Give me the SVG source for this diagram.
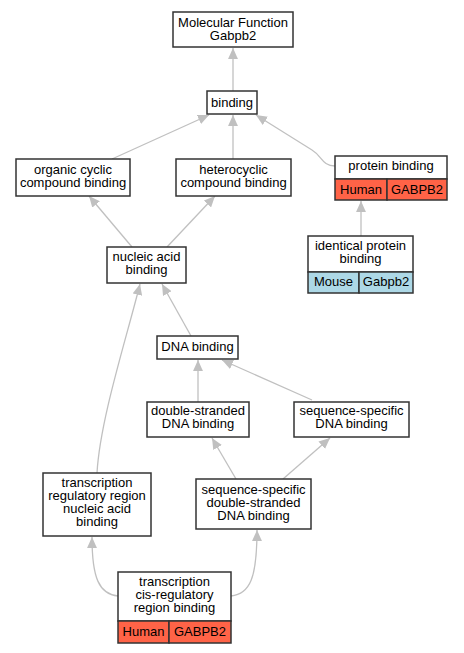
<svg xmlns="http://www.w3.org/2000/svg" width="464" height="653" viewBox="0 0 464 653">
<style>
.n rect{fill:#fff;stroke:#333;stroke-width:1.5}
.n rect.h{fill:#ff6347}
.n rect.m{fill:#add8e6}
text{font-family:"Liberation Sans",Arial,sans-serif;font-size:13px;text-anchor:middle;fill:#000}
.e path{fill:none;stroke:#c0c0c0;stroke-width:1.3}
</style>
<defs>
<marker id="a" viewBox="0 0 10 9" refX="10" refY="4.5" markerWidth="11" markerHeight="10" markerUnits="userSpaceOnUse" orient="auto">
<path d="M0,0 L10,4.5 L0,9 z" fill="#c0c0c0"/>
</marker>
</defs>
<g class="e">
<path d="M233,91 L233,48" marker-end="url(#a)"/>
<path d="M112,159 L209,115" marker-end="url(#a)"/>
<path d="M233,159 L233,115" marker-end="url(#a)"/>
<path d="M335,166 C322,166 322,156 312,150 L256,115" marker-end="url(#a)"/>
<path d="M361,236 L361,201" marker-end="url(#a)"/>
<path d="M132,247 L89,196" marker-end="url(#a)"/>
<path d="M167,247 L215,196" marker-end="url(#a)"/>
<path d="M191,336 L162,284" marker-end="url(#a)"/>
<path d="M97,473 C100,420 126,340 140,284" marker-end="url(#a)"/>
<path d="M198,402 L198,360" marker-end="url(#a)"/>
<path d="M312,400 L222,360" marker-end="url(#a)"/>
<path d="M236,479 L212,438" marker-end="url(#a)"/>
<path d="M283,479 L330,438" marker-end="url(#a)"/>
<path d="M118,596 C99,594 92,578 92,537" marker-end="url(#a)"/>
<path d="M231,596 C250,594 257,578 257,530" marker-end="url(#a)"/>
</g>
<g id="mf" class="n"><rect x="173" y="12" width="120" height="35"/><text x="233" y="27">Molecular Function</text><text x="233" y="40">Gabpb2</text></g>
<g id="binding" class="n"><rect x="207" y="91" width="50" height="23"/><text x="232" y="107">binding</text></g>
<g id="organic" class="n"><rect x="16" y="159" width="114" height="37"/><text x="73" y="174">organic cyclic</text><text x="73" y="187">compound binding</text></g>
<g id="hetero" class="n"><rect x="176" y="159" width="115" height="37"/><text x="233.5" y="174">heterocyclic</text><text x="233.5" y="187">compound binding</text></g>
<g id="protein" class="n"><rect x="335" y="156" width="112" height="23"/><rect class="h" x="335" y="179" width="52" height="21"/><rect class="h" x="387" y="179" width="60" height="21"/><text x="391" y="170">protein binding</text><text x="361" y="194">Human</text><text x="417" y="194">GABPB2</text></g>
<g id="identical" class="n"><rect x="308" y="236" width="105" height="36"/><rect class="m" x="308" y="272" width="51" height="21"/><rect class="m" x="359" y="272" width="54" height="21"/><text x="360.5" y="250">identical protein</text><text x="360.5" y="263">binding</text><text x="333.5" y="286">Mouse</text><text x="386" y="286">Gabpb2</text></g>
<g id="nucleic" class="n"><rect x="107" y="247" width="79" height="36"/><text x="146.5" y="261">nucleic acid</text><text x="146.5" y="274">binding</text></g>
<g id="dna" class="n"><rect x="157" y="336" width="81" height="23"/><text x="197.5" y="351">DNA binding</text></g>
<g id="ds" class="n"><rect x="147" y="402" width="102" height="35"/><text x="198" y="415">double-stranded</text><text x="198" y="428">DNA binding</text></g>
<g id="ss" class="n"><rect x="294" y="402" width="115" height="35"/><text x="351.5" y="415">sequence-specific</text><text x="351.5" y="428">DNA binding</text></g>
<g id="trr" class="n"><rect x="43" y="473" width="108" height="63"/><text x="97" y="487">transcription</text><text x="97" y="500">regulatory region</text><text x="97" y="513">nucleic acid</text><text x="97" y="526">binding</text></g>
<g id="ssds" class="n"><rect x="196" y="479" width="115" height="50"/><text x="253.5" y="494">sequence-specific</text><text x="253.5" y="507">double-stranded</text><text x="253.5" y="520">DNA binding</text></g>
<g id="cis" class="n"><rect x="118" y="572" width="113" height="49"/><rect class="h" x="118" y="621" width="51" height="22"/><rect class="h" x="169" y="621" width="62" height="22"/><text x="174.5" y="586">transcription</text><text x="174.5" y="599">cis-regulatory</text><text x="174.5" y="612">region binding</text><text x="143.5" y="636">Human</text><text x="200" y="636">GABPB2</text></g>
</svg>
